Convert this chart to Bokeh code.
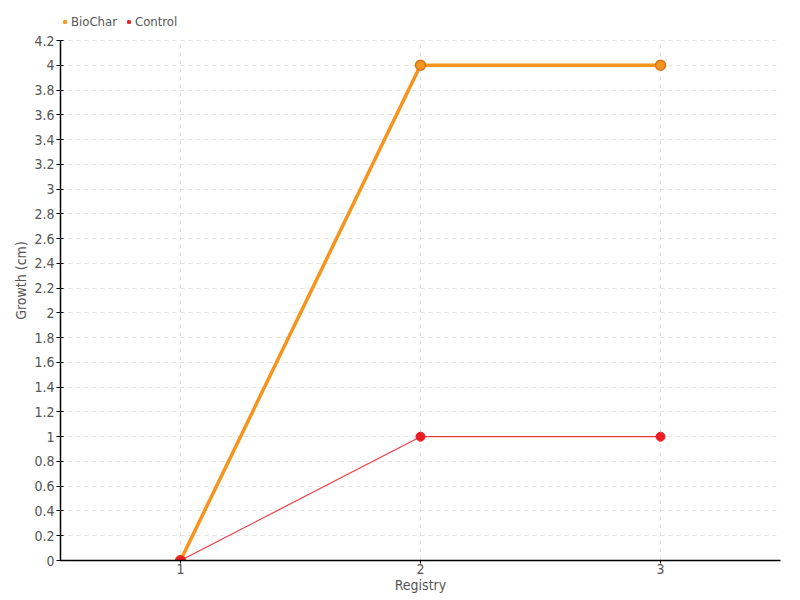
from bokeh.plotting import figure
from bokeh.models import FixedTicker, Legend, LegendItem, Range1d
from bokeh.embed import file_html
from bokeh.resources import INLINE

registry = [1, 2, 3]
biochar = [0, 4, 4]
control = [0, 1, 1]
y_ticks = [0, 0.2, 0.4, 0.6, 0.8, 1, 1.2, 1.4, 1.6, 1.8, 2, 2.2, 2.4, 2.6, 2.8, 3,
           3.2, 3.4, 3.6, 3.8, 4, 4.2]
y_labels = ["0", "0.2", "0.4", "0.6", "0.8", "1", "1.2", "1.4", "1.6", "1.8", "2", "2.2",
            "2.4", "2.6", "2.8", "3", "3.2", "3.4", "3.6", "3.8", "4", "4.2"]
x_ticks = [1, 2, 3]
y_max = 4.2

FONT = "DejaVu Sans Condensed, Roboto, sans-serif"
TXT = "#555555"
ORANGE = "#f7941d"
RED = "#ed1c24"
GRID = "#e2e2e2"
NAN = float("nan")

FRAME_H = 560
DATA_H = 520
p = figure(width=800, height=600, output_backend="svg", toolbar_location=None,
           x_range=Range1d(0.5, 3.5), y_range=Range1d(0, y_max * FRAME_H / DATA_H),
           min_border_left=60, min_border_right=20, min_border_top=0, min_border_bottom=40)
p.outline_line_color = None

p.ygrid.grid_line_color = GRID
p.ygrid.grid_line_dash = "4 4"
p.ygrid.ticker = FixedTicker(ticks=y_ticks)
p.xgrid.grid_line_color = None
p.segment(x0=x_ticks, x1=x_ticks, y0=[y_ticks[0]] * len(x_ticks), y1=[y_max] * len(x_ticks),
          line_color=GRID, line_dash="4 4", line_width=1)

p.yaxis.ticker = FixedTicker(ticks=y_ticks)
p.yaxis.major_label_overrides = {t: l for t, l in zip(y_ticks, y_labels)}
p.yaxis.bounds = (0, y_max)
p.xaxis.ticker = FixedTicker(ticks=x_ticks)

for ax in (p.xaxis, p.yaxis):
    ax.axis_line_color = "black"
    ax.axis_line_width = 1.5
    ax.major_tick_line_color = "black"
    ax.minor_tick_line_color = None
    ax.major_label_text_font = FONT
    ax.major_label_text_font_size = "14px"
    ax.major_label_text_color = TXT
    ax.axis_label_text_font = FONT
    ax.axis_label_text_font_size = "14px"
    ax.axis_label_text_font_style = "normal"
    ax.axis_label_text_color = TXT

p.yaxis.major_tick_in = 3
p.yaxis.major_tick_out = 4
p.yaxis.major_label_standoff = 2
p.yaxis.axis_label = "Growth (cm)"
p.yaxis.axis_label_standoff = 2
p.xaxis.major_tick_in = 0
p.xaxis.major_tick_out = 3
p.xaxis.major_label_standoff = 0
p.xaxis.axis_label = "Registry"
p.xaxis.axis_label_standoff = 0

bl = p.line(registry, biochar, line_color=ORANGE, line_width=3.5)
bs = p.scatter(registry, biochar, size=10, fill_color=ORANGE, line_color="#d8731a", line_width=1.5)
cl = p.line(registry, control, line_color=RED, line_width=1.2, line_alpha=0.85)
cs = p.scatter(registry, control, size=9, fill_color=RED, line_color=RED)

# square swatches for the legend only (not drawn in the plot: NaN position)
bsq = p.scatter(x=[NAN], y=[NAN], marker="square", size=7, fill_color=ORANGE, line_color=ORANGE)
csq = p.scatter(x=[NAN], y=[NAN], marker="square", size=7, fill_color=RED, line_color=RED)

legend = Legend(items=[LegendItem(label="BioChar", renderers=[bsq]),
                       LegendItem(label="Control", renderers=[csq])],
                orientation="horizontal", location=(1, 531),
                label_text_font=FONT, label_text_font_size="13px", label_text_color=TXT,
                glyph_width=7, glyph_height=7, label_standoff=3, spacing=8,
                padding=0, margin=0, border_line_color=None, background_fill_alpha=0,
                label_height=14)
p.add_layout(legend, "center")

open("out.html", "w").write(file_html(p, INLINE))
